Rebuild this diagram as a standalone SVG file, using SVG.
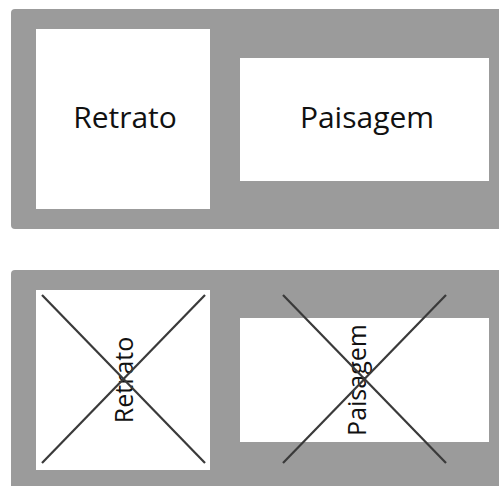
<svg xmlns="http://www.w3.org/2000/svg" width="499" height="486" viewBox="0 0 499 486">
<style>
.panel{fill:#9b9b9b}
.box{fill:#ffffff}
.lbl{font-family:"Open Sans","Liberation Sans",sans-serif;fill:#111;text-anchor:middle}
.big{font-size:30px}
.small{font-size:25px}
.x{stroke:#3a3a3a;stroke-width:2.2;fill:none}
</style>
<rect class="panel" x="11" y="9" width="500" height="220" rx="4"/>
<rect class="panel" x="11" y="270" width="500" height="230" rx="4"/>
<g id="retrato-top">
<rect class="box" x="36" y="29" width="174" height="180"/>
<text class="lbl big" x="125" y="128">Retrato</text>
</g>
<g id="paisagem-top">
<rect class="box" x="240" y="58" width="249" height="123"/>
<text class="lbl big" x="367" y="128">Paisagem</text>
</g>
<g id="retrato-bottom">
<rect class="box" x="36" y="290" width="174" height="180"/>
<text class="lbl small" transform="translate(133 380) rotate(-90)" x="0" y="0">Retrato</text>
</g>
<g id="paisagem-bottom">
<rect class="box" x="240" y="318" width="249" height="124"/>
<text class="lbl small" transform="translate(366 380) rotate(-90)" x="0" y="0">Paisagem</text>
</g>
<g id="connectors">
<line class="x" x1="42" y1="295" x2="205" y2="463"/>
<line class="x" x1="205" y1="295" x2="42" y2="463"/>
<line class="x" x1="283" y1="295" x2="446" y2="463"/>
<line class="x" x1="446" y1="295" x2="283" y2="463"/>
</g>
</svg>
